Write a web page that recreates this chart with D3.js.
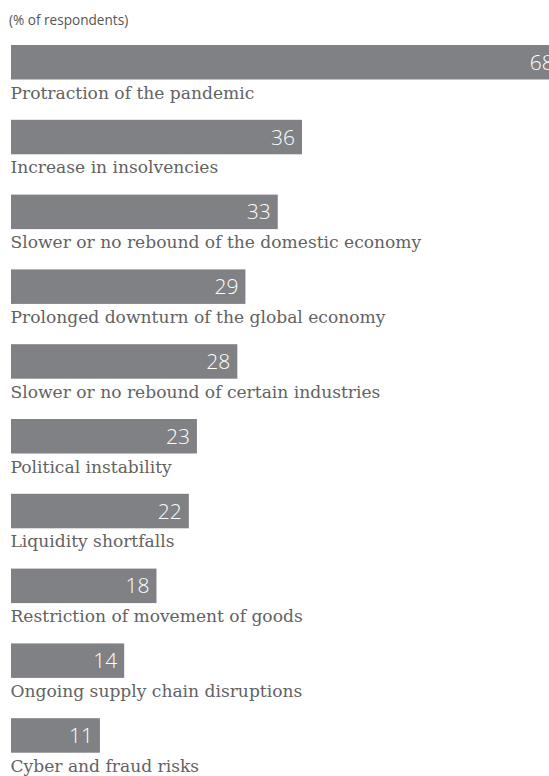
<!DOCTYPE html>
<html>
<head>
<meta charset="utf-8">
<script src="https://cdn.jsdelivr.net/npm/d3@7"></script>
<style>
  html, body { margin: 0; padding: 0; background: #ffffff; }
  svg { display: block; }
</style>
</head>
<body>
<svg id="chart" width="549" height="776"></svg>
<script>
// Survey responses, share of respondents per concern
const categories = [
  "Protraction of the pandemic",
  "Increase in insolvencies",
  "Slower or no rebound of the domestic economy",
  "Prolonged downturn of the global economy",
  "Slower or no rebound of certain industries",
  "Political instability",
  "Liquidity shortfalls",
  "Restriction of movement of goods",
  "Ongoing supply chain disruptions",
  "Cyber and fraud risks"
];
const values = [68, 36, 33, 29, 28, 23, 22, 18, 14, 11];
const unitLabel = "(% of respondents)";

const svg = d3.select("#chart");

// Horizontal scale: bars start at the left margin; the longest bar runs past the edge
const x = d3.scaleLinear().domain([0, 36]).range([11, 302]);
const y = d3.scaleBand()
  .domain(categories)
  .range([45, 45 + 74.8 * categories.length])
  .paddingInner(0)
  .paddingOuter(0);
const barH = 34.5;

svg.append("text")
  .attr("x", 9)
  .attr("y", 25)
  .attr("font-family", "'Open Sans', sans-serif")
  .attr("font-size", 13.6)
  .attr("fill", "#555555")
  .text(unitLabel);

const data = categories.map((c, i) => ({ cat: c, val: values[i] }));

const g = svg.selectAll("g.row").data(data).join("g").attr("class", "row");

g.append("rect")
  .attr("x", x(0))
  .attr("y", d => y(d.cat))
  .attr("width", d => x(d.val) - x(0))
  .attr("height", barH)
  .attr("fill", "#808184");

g.append("text")
  .attr("x", d => x(d.val) - 7)
  .attr("y", d => y(d.cat) + barH / 2)
  .attr("dy", "0.36em")
  .attr("text-anchor", "end")
  .attr("font-family", "'Open Sans', sans-serif")
  .attr("font-weight", 300)
  .attr("font-size", 21)
  .attr("fill", "#ffffff")
  .text(d => d.val);

g.append("text")
  .attr("x", 10.5)
  .attr("y", d => y(d.cat) + barH + 19)
  .attr("font-family", "'DejaVu Serif', serif")
  .attr("font-size", 17.1)
  .attr("fill", "#626262")
  .text(d => d.cat);
</script>
</body>
</html>
